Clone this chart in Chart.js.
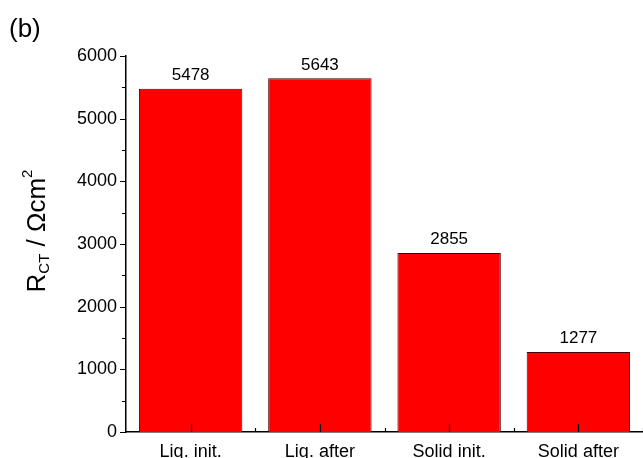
<!DOCTYPE html>
<html>
<head>
<meta charset="utf-8">
<script src="https://cdn.jsdelivr.net/npm/chart.js@4"></script>
<style>
  html, body { margin: 0; padding: 0; background: #fff; }
  #wrap { width: 643px; height: 458px; }
</style>
</head>
<body>
<div id="wrap"><canvas id="chart"></canvas></div>
<script>
const categories = ['Liq. init.', 'Liq. after', 'Solid init.', 'Solid after'];
const rctValues = [5478, 5643, 2855, 1277];
const yTicks = [0, 1000, 2000, 3000, 4000, 5000, 6000];

const FONT = '"Liberation Sans", Arial, sans-serif';

// axis ticks drawn by hand: outward majors/minors on y, inward on x
const axisTicks = {
  id: 'axisTicks',
  afterDraw(chart) {
    const ctx = chart.ctx;
    const x = chart.scales.x, y = chart.scales.y;
    const area = chart.chartArea;
    ctx.save();
    ctx.strokeStyle = '#000';
    ctx.lineWidth = 1.2;
    ctx.beginPath();
    for (let v = 0; v <= 6000; v += 500) {
      const py = Math.round(y.getPixelForValue(v)) + 0.5;
      const len = v % 1000 === 0 ? 6 : 4;
      ctx.moveTo(area.left, py);
      ctx.lineTo(area.left - len, py);
    }
    for (let i = 0; i < categories.length; i++) {
      const px = Math.round(x.getPixelForValue(i)) + 0.5;
      ctx.moveTo(px, area.bottom);
      ctx.lineTo(px, area.bottom - 8);
      const bx = Math.round(x.getPixelForValue(i + 0.5)) + 0.5;
      ctx.moveTo(bx, area.bottom);
      ctx.lineTo(bx, area.bottom - 4);
    }
    ctx.stroke();

    // value labels
    ctx.fillStyle = '#000';
    ctx.font = '17px ' + FONT;
    ctx.textAlign = 'center';
    ctx.textBaseline = 'bottom';
    chart.getDatasetMeta(0).data.forEach((bar, i) => {
      ctx.fillText(String(rctValues[i]), bar.x, bar.y - 5);
    });

    // panel letter
    ctx.font = '26px ' + FONT;
    ctx.textAlign = 'left';
    ctx.textBaseline = 'alphabetic';
    ctx.fillText('(b)', 9, 37);

    // y axis title with sub/superscript
    ctx.translate(45, 231);
    ctx.rotate(-Math.PI / 2);
    const parts = [
      { t: 'R', size: 26, dy: 0 },
      { t: 'CT', size: 15, dy: 4 },
      { t: ' / \u03A9cm', size: 26, dy: 0 },
      { t: '2', size: 15, dy: -13 }
    ];
    let total = 0;
    parts.forEach(p => { ctx.font = p.size + 'px ' + FONT; total += ctx.measureText(p.t).width; });
    let cx = -total / 2;
    parts.forEach(p => {
      ctx.font = p.size + 'px ' + FONT;
      ctx.fillText(p.t, cx, p.dy);
      cx += ctx.measureText(p.t).width;
    });
    ctx.restore();
  }
};

new Chart(document.getElementById('chart'), {
  type: 'bar',
  data: {
    labels: categories,
    datasets: [{
      data: rctValues,
      backgroundColor: '#ff0000',
      borderColor: '#4a0000',
      borderWidth: 1,
      barPercentage: 0.8,
      categoryPercentage: 1.0
    }]
  },
  options: {
    responsive: true,
    maintainAspectRatio: false,
    animation: false,
    layout: { padding: { top: 56, right: 0, left: 0, bottom: 0 } },
    plugins: { legend: { display: false }, tooltip: { enabled: false } },
    scales: {
      x: {
        grid: { display: false },
        border: { color: '#000', width: 1.5 },
        ticks: { color: '#000', font: { family: FONT, size: 18 }, padding: 1, maxRotation: 0 },
        afterFit(scale) { scale.height = 26; }
      },
      y: {
        min: 0,
        max: 6000,
        afterBuildTicks(scale) { scale.ticks = yTicks.map(v => ({ value: v })); },
        grid: { display: false },
        border: { color: '#000', width: 1.5 },
        ticks: { color: '#000', font: { family: FONT, size: 18 }, padding: 1, callback: v => String(v) },
        afterFit(scale) { scale.width = 126; }
      }
    }
  },
  plugins: [axisTicks]
});
</script>
</body>
</html>
